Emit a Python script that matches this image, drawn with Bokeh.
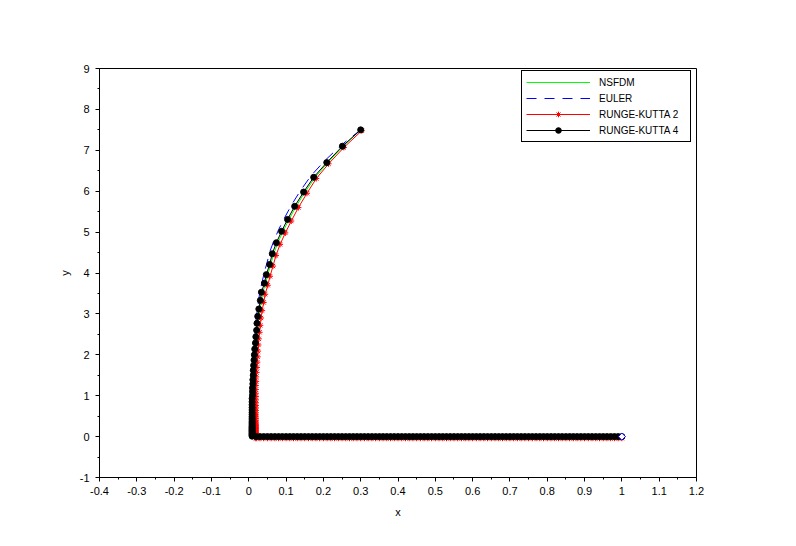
from bokeh.plotting import figure
from bokeh.models import FixedTicker, Legend, LegendItem
from bokeh.embed import file_html
from bokeh.resources import INLINE
import math

# ---------------- data ----------------
# shared bottom branch (y ~ 0) x values
bottom_x = [0.02, 0.03, 0.04, 0.05, 0.06, 0.07, 0.08, 0.09, 0.10,
            0.11, 0.12, 0.13, 0.14, 0.15, 0.16, 0.17, 0.18, 0.19, 0.20,
            0.21, 0.22, 0.23, 0.24, 0.25, 0.26, 0.27, 0.28, 0.29, 0.30,
            0.31, 0.32, 0.33, 0.34, 0.35, 0.36, 0.37, 0.38, 0.39, 0.40,
            0.41, 0.42, 0.43, 0.44, 0.45, 0.46, 0.47, 0.48, 0.49, 0.50,
            0.51, 0.52, 0.53, 0.54, 0.55, 0.56, 0.57, 0.58, 0.59, 0.60,
            0.61, 0.62, 0.63, 0.64, 0.65, 0.66, 0.67, 0.68, 0.69, 0.70,
            0.71, 0.72, 0.73, 0.74, 0.75, 0.76, 0.77, 0.78, 0.79, 0.80,
            0.81, 0.82, 0.83, 0.84, 0.85, 0.86, 0.87, 0.88, 0.89, 0.90,
            0.91, 0.92, 0.93, 0.94, 0.95, 0.96, 0.97, 0.98, 0.99, 1.00]

# RUNGE-KUTTA 4 (upper branch)
rk4_x = [0.300, 0.251, 0.209, 0.174, 0.147, 0.123, 0.104, 0.088, 0.074, 0.063,
         0.056, 0.047, 0.042, 0.034, 0.031, 0.027, 0.024, 0.022, 0.021, 0.019,
         0.018, 0.016, 0.015, 0.014, 0.013, 0.012, 0.012, 0.011, 0.011, 0.010,
         0.010, 0.010, 0.009, 0.009, 0.009, 0.009, 0.009, 0.009, 0.009, 0.009,
         0.009, 0.009, 0.009, 0.009, 0.009, 0.009, 0.009, 0.009, 0.009, 0.009,
         0.009, 0.009, 0.009, 0.009, 0.009, 0.009, 0.009, 0.009, 0.009]
rk4_y = [7.50, 7.10, 6.70, 6.34, 5.98, 5.63, 5.31, 5.02, 4.74, 4.47,
         4.21, 3.96, 3.75, 3.53, 3.33, 3.12, 2.94, 2.77, 2.60, 2.44,
         2.29, 2.14, 2.00, 1.87, 1.74, 1.62, 1.50, 1.39, 1.29, 1.19,
         1.10, 1.01, 0.93, 0.85, 0.78, 0.71, 0.65, 0.59, 0.54, 0.49,
         0.45, 0.41, 0.37, 0.34, 0.31, 0.28, 0.25, 0.23, 0.21, 0.19,
         0.17, 0.15, 0.13, 0.11, 0.09, 0.07, 0.05, 0.03, 0.01]
rk4_bottom_y = [0.0] * len(bottom_x)

# RUNGE-KUTTA 2 (upper branch)
rk2_x = [0.303, 0.255, 0.214, 0.181, 0.156, 0.133, 0.114, 0.098, 0.084, 0.073,
         0.065, 0.057, 0.051, 0.044, 0.040, 0.036, 0.033, 0.031, 0.029, 0.027,
         0.026, 0.025, 0.024, 0.023, 0.022, 0.021, 0.020, 0.020, 0.019, 0.019,
         0.019, 0.019, 0.019, 0.019, 0.019, 0.019, 0.019, 0.019, 0.019, 0.019,
         0.019, 0.019, 0.019, 0.019, 0.019, 0.019, 0.019, 0.019, 0.019, 0.019,
         0.019, 0.019, 0.019, 0.019, 0.019, 0.019, 0.019, 0.019]
rk2_y = [7.48, 7.07, 6.67, 6.31, 5.95, 5.60, 5.27, 4.98, 4.70, 4.43,
         4.17, 3.92, 3.70, 3.48, 3.28, 3.08, 2.90, 2.72, 2.55, 2.39,
         2.24, 2.09, 1.95, 1.82, 1.69, 1.57, 1.46, 1.35, 1.25, 1.15,
         1.06, 0.98, 0.90, 0.83, 0.76, 0.70, 0.64, 0.58, 0.53, 0.48,
         0.44, 0.40, 0.36, 0.33, 0.30, 0.27, 0.24, 0.22, 0.20, 0.18,
         0.16, 0.14, 0.12, 0.10, 0.08, 0.06, 0.02, -0.04]
rk2_bottom_y = [-0.04] * len(bottom_x)

# NSFDM (line only)
nsfdm_x = [0.300, 0.253, 0.212, 0.178, 0.151, 0.127, 0.108, 0.092, 0.078, 0.067,
           0.059, 0.051, 0.045, 0.038, 0.034, 0.030, 0.027, 0.025, 0.023, 0.021,
           0.020, 0.018, 0.017, 0.016, 0.015, 0.014, 0.013, 0.012, 0.012, 0.011,
           0.011, 0.010, 0.010, 0.010, 0.010, 1.000]
nsfdm_y = [7.50, 7.10, 6.70, 6.34, 5.98, 5.63, 5.31, 5.02, 4.74, 4.47,
           4.21, 3.96, 3.75, 3.53, 3.33, 3.12, 2.94, 2.77, 2.60, 2.44,
           2.29, 2.14, 2.00, 1.87, 1.74, 1.62, 1.50, 1.39, 1.29, 1.19,
           1.10, 1.01, 0.93, 0.45, 0.00, 0.00]

# EULER (line only)
euler_x = [0.300, 0.247, 0.203, 0.167, 0.139, 0.115, 0.096, 0.080, 0.067, 0.056,
           0.049, 0.041, 0.036, 0.030, 0.027, 0.024, 0.021, 0.019, 0.018, 0.016,
           0.015, 0.014, 0.013, 0.012, 0.011, 0.010, 0.010, 0.009, 0.009, 0.008,
           0.008, 0.008, 1.000]
euler_y = [7.50, 7.12, 6.74, 6.38, 6.02, 5.67, 5.35, 5.06, 4.78, 4.51,
           4.25, 4.00, 3.78, 3.56, 3.36, 3.15, 2.97, 2.79, 2.62, 2.46,
           2.30, 2.15, 2.01, 1.87, 1.74, 1.62, 1.50, 1.39, 1.20, 1.00,
           0.50, 0.00, 0.00]

# end point marker (blue diamond)
end_x = [1.0]
end_y = [0.0]

x_ticks = [-0.4, -0.3, -0.2, -0.1, 0.0, 0.1, 0.2, 0.3, 0.4, 0.5, 0.6, 0.7, 0.8,
           0.9, 1.0, 1.1, 1.2]
x_tick_labels = ["-0.4", "-0.3", "-0.2", "-0.1", "0", "0.1", "0.2", "0.3", "0.4",
                 "0.5", "0.6", "0.7", "0.8", "0.9", "1", "1.1", "1.2"]
x_minor = [-0.35, -0.25, -0.15, -0.05, 0.05, 0.15, 0.25, 0.35, 0.45, 0.55, 0.65,
           0.75, 0.85, 0.95, 1.05, 1.15]
y_ticks = [-1, 0, 1, 2, 3, 4, 5, 6, 7, 8, 9]
y_tick_labels = ["-1", "0", "1", "2", "3", "4", "5", "6", "7", "8", "9"]
y_minor = [-0.5, 0.5, 1.5, 2.5, 3.5, 4.5, 5.5, 6.5, 7.5, 8.5]

legend_labels = ["NSFDM", "EULER", "RUNGE-KUTTA 2", "RUNGE-KUTTA 4"]

# ---------------- figure ----------------
FONT = "Liberation Sans"

p = figure(width=790, height=540, x_range=(-0.4, 1.2), y_range=(-1, 9),
           output_backend="svg", toolbar_location=None,
           min_border_left=99, min_border_right=94, min_border_top=68,
           min_border_bottom=63)
p.background_fill_color = "white"
p.border_fill_color = "white"
p.outline_line_color = "black"
p.outline_line_width = 1
p.outline_line_alpha = 1
p.xgrid.visible = False
p.ygrid.visible = False

g_line = p.line(nsfdm_x, nsfdm_y, line_color="#00ff00", line_width=1)
e_line = p.line(euler_x, euler_y, line_color="#0000ff", line_width=1,
                line_dash="10 8")
r2x = rk2_x + bottom_x
r2y = rk2_y + rk2_bottom_y
r_line = p.line(r2x, r2y, line_color="#ff0000", line_width=1)
r_pts = p.scatter(r2x, r2y, marker="asterisk", size=6, line_color="#ff0000",
                  line_width=1)
r4x = rk4_x + bottom_x
r4y = rk4_y + rk4_bottom_y
k_line = p.line(r4x, r4y, line_color="black", line_width=1)
k_pts = p.scatter(r4x, r4y, marker="circle", size=6, fill_color="black",
                  line_color="black")
p.scatter(end_x, end_y, marker="square", angle=math.pi / 4, size=5,
          fill_color="white", fill_alpha=1, line_color="#0000ff", line_width=1)

for ax, ticks, labels, minor in ((p.xaxis[0], x_ticks, x_tick_labels, x_minor),
                                 (p.yaxis[0], y_ticks, y_tick_labels, y_minor)):
    ax.ticker = FixedTicker(ticks=ticks, minor_ticks=minor)
    ax.major_label_overrides = dict(zip(ticks, labels))
    ax.major_tick_in = 0
    ax.major_tick_out = 4
    ax.minor_tick_in = 0
    ax.minor_tick_out = 2
    ax.axis_line_color = "black"
    ax.major_tick_line_color = "black"
    ax.minor_tick_line_color = "black"
    ax.major_label_text_font = FONT
    ax.major_label_text_font_size = "11px"
    ax.major_label_text_color = "black"
    ax.axis_label_text_font = FONT
    ax.axis_label_text_font_size = "11px"
    ax.axis_label_text_font_style = "normal"
    ax.axis_label_text_color = "black"

p.xaxis.axis_label = "x"
p.yaxis.axis_label = "y"
p.xaxis.major_label_standoff = 5
p.yaxis.major_label_standoff = 6
p.xaxis.axis_label_standoff = 8
p.yaxis.axis_label_standoff = 6

legend = Legend(items=[
    LegendItem(label=legend_labels[0], renderers=[g_line]),
    LegendItem(label=legend_labels[1], renderers=[e_line]),
    LegendItem(label=legend_labels[2], renderers=[r_line, r_pts]),
    LegendItem(label=legend_labels[3], renderers=[k_line, k_pts]),
], location=(422, 335))
legend.margin = 0
legend.padding = 4
legend.spacing = 2
legend.glyph_width = 64
legend.glyph_height = 14
legend.label_height = 14
legend.label_width = 87
legend.label_standoff = 9
legend.label_text_font = FONT
legend.label_text_font_size = "10px"
legend.label_text_color = "black"
legend.border_line_color = "black"
legend.border_line_width = 1
legend.border_line_alpha = 1
legend.background_fill_color = "white"
legend.background_fill_alpha = 1
p.add_layout(legend)

open("out.html", "w").write(file_html(p, INLINE))
